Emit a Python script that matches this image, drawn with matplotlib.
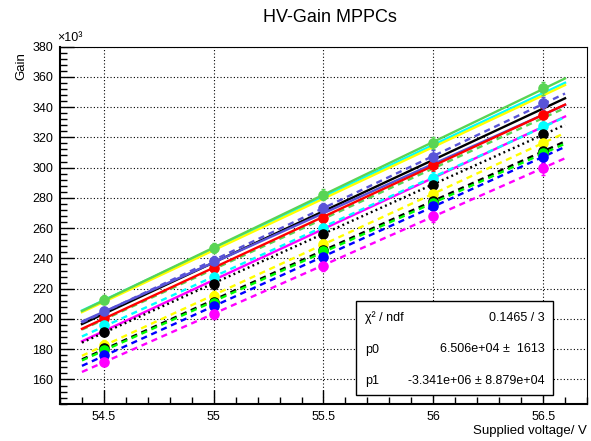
import matplotlib

matplotlib.use("Agg")
import matplotlib.pyplot as plt
import numpy as np
from matplotlib.patches import Rectangle
from matplotlib.ticker import MultipleLocator

plt.rcParams["font.family"] = ["Liberation Sans", "DejaVu Sans"]

# supplied voltage [V] and gain [x10^3] per channel
volts = [54.5, 55.0, 55.5, 56.0, 56.5]
gain_err = [3.0, 3.3, 3.6, 4.0, 4.4]

green8_solid = [212.7, 246.7, 282.0, 316.5, 352.4]
cyan_solid = [212.4, 246.6, 280.8, 315.0, 349.2]
yellow_solid = [211.3, 245.4, 279.5, 313.6, 347.7]
black_solid = [203.4, 237.3, 271.2, 305.1, 339.0]
slate_solid = [204.8, 237.3, 269.9, 302.4, 334.9]
red_solid = [200.6, 233.5, 267.0, 301.8, 334.8]
magenta_solid = [192.0, 225.7, 259.5, 293.2, 327.0]
slate_dashed = [205.0, 238.4, 273.2, 307.3, 342.5]
green8_dashed = [199.6, 232.9, 266.2, 299.5, 332.7]
cyan_dashed = [195.7, 227.6, 260.4, 293.0, 327.7]
black_dotted = [191.4, 223.2, 256.2, 288.4, 322.3]
yellow_dashed = [183.0, 214.9, 249.4, 282.6, 316.5]
black_dashed = [180.7, 211.5, 245.3, 277.7, 311.2]
green_dashed = [179.7, 210.6, 244.6, 276.5, 309.5]
blue_dashed = [175.9, 208.3, 240.9, 274.3, 307.3]
magenta_dashed = [171.6, 203.2, 235.3, 268.1, 299.6]

fit_range = (54.4, 56.6)
stats_rows = [("χ² / ndf", "0.1465 / 3"),
              ("p0", "6.506e+04 ±  1613"),
              ("p1", "-3.341e+06 ± 8.879e+04")]

GREEN8 = "#59d454"
SLATE = "#5954d8"
SOLID = "-"
DASH = (0, (2.6, 2.0))
DOT = (0, (0.8, 1.4))

# (gains, colour, line style, marker shown)
channels = [
    (cyan_solid, "#00ffff", SOLID, False),
    (yellow_solid, "#ffff00", SOLID, False),
    (green8_solid, GREEN8, SOLID, True),
    (black_solid, "black", SOLID, False),
    (slate_solid, SLATE, SOLID, False),
    (green8_dashed, GREEN8, DASH, False),
    (red_solid, "#ff0000", SOLID, True),
    (magenta_solid, "#ff00ff", SOLID, False),
    (slate_dashed, SLATE, DASH, True),
    (cyan_dashed, "#00ffff", DASH, True),
    (black_dotted, "black", DOT, True),
    (yellow_dashed, "#ffff00", DASH, True),
    (black_dashed, "black", DASH, True),
    (green_dashed, "#00ff00", DASH, True),
    (blue_dashed, "#0000ff", DASH, True),
    (magenta_dashed, "#ff00ff", DASH, True),
]

fig = plt.figure(figsize=(5.91, 4.41), dpi=100)
ax = fig.add_axes([60 / 591, 37 / 441, 527 / 591, 357.5 / 441])

xfit = np.linspace(*fit_range, 50)
for gains, color, style, _ in channels:
    slope, icpt = np.polyfit(volts, gains, 1)
    ax.plot(xfit, slope * xfit + icpt, color=color, ls=style, lw=1.7, zorder=3)
for gains, color, style, marked in channels:
    if marked:
        ax.errorbar(volts, gains, yerr=gain_err, fmt="o", color=color, ms=6.6,
                    elinewidth=1.0, capsize=1.5, capthick=1.0, zorder=4)

ax.set_xlim(54.3, 56.7)
ax.set_ylim(143.8, 380)
ax.xaxis.set_major_locator(MultipleLocator(0.5))
ax.xaxis.set_minor_locator(MultipleLocator(0.1))
ax.yaxis.set_major_locator(MultipleLocator(20))
ax.yaxis.set_minor_locator(MultipleLocator(4))
ax.xaxis.set_major_formatter(matplotlib.ticker.FuncFormatter(lambda v, _: f"{v:g}"))
ax.tick_params(which="both", direction="in", top=False, right=False,
               labelsize=9, pad=5, width=1.0)
ax.tick_params(which="major", length=10)
ax.tick_params(which="minor", length=5)
ax.grid(True, which="major", color="black", ls=(0, (1, 2)), lw=0.8)
ax.set_axisbelow(True)
for side in ("left", "bottom"):
    ax.spines[side].set_linewidth(1.5)
for side in ("top", "right"):
    ax.spines[side].set_linewidth(0.8)

fig.text(330 / 591, 1 - 18 / 441, "HV-Gain MPPCs", ha="center", va="center", fontsize=13)
fig.text(57 / 591, 1 - 38 / 441, "×10³", ha="left", va="center", fontsize=9)
fig.text(21 / 591, 1 - 52 / 441, "Gain", rotation=90, ha="center", va="top", fontsize=9.5)
fig.text(587 / 591, 1 - 431 / 441, "Supplied voltage/ V", ha="right", va="center",
         fontsize=9.5)

# fit statistics box
fig.patches.append(Rectangle((356 / 591, 1 - 395 / 441), 197 / 591, 94 / 441,
                             transform=fig.transFigure, facecolor="white",
                             edgecolor="black", lw=1.0, zorder=5))
for i, (name, value) in enumerate(stats_rows):
    y = 1 - (318 + 31.5 * i) / 441
    fig.text(365 / 591, y, name, ha="left", va="center", fontsize=9, zorder=6)
    fig.text(545 / 591, y, value, ha="right", va="center", fontsize=9, zorder=6)

fig.savefig("out.png", dpi=100)
